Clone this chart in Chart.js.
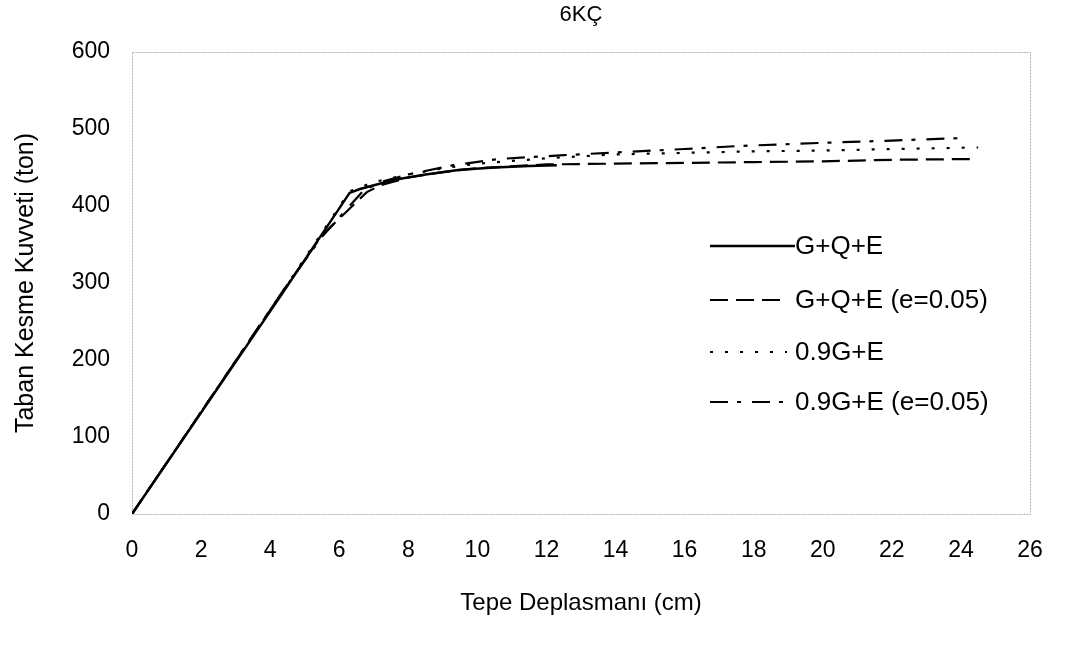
<!DOCTYPE html>
<html>
<head>
<meta charset="utf-8">
<script src="https://cdn.jsdelivr.net/npm/chart.js@4/dist/chart.umd.min.js"></script>
<style>
  html, body { margin: 0; padding: 0; background: #fff; }
  #wrap { width: 1085px; height: 646px; position: relative; }
</style>
</head>
<body>
<div id="wrap"><canvas id="chart" width="1085" height="646"></canvas></div>
<script>
// --- DATA ---
const titleText = '6KÇ';
const xTitle = 'Tepe Deplasmanı (cm)';
const yTitle = 'Taban Kesme Kuvveti (ton)';

const labels = ['G+Q+E', 'G+Q+E (e=0.05)', '0.9G+E', '0.9G+E (e=0.05)'];

const gqeX = [0, 4.3, 6.3, 6.6, 7.6, 8.5, 9.5, 10.5, 11.5, 12.3];
const gqeY = [0, 283, 417, 422, 434, 441, 447, 450, 452, 453];

const gqeEX = [0, 4.5, 5.5, 6.8, 7.2, 8, 9, 10, 12, 14, 16, 18, 20, 22, 24.3];
const gqeEY = [0, 298, 362, 418, 427, 437, 444, 449, 454, 455, 456, 457, 458, 460, 461];

const g09X = [0, 4.3, 6.3, 7, 8, 9, 10, 12, 14, 16, 18, 20, 22, 24.5];
const g09Y = [0, 285, 419, 431, 441, 449, 455, 462, 467, 469, 471, 472, 474, 476];

const g09EX = [0, 4.5, 5.5, 6.7, 7.2, 8, 9.3, 10.6, 12.5, 14.2, 16, 17.6, 20, 22, 23.9];
const g09EY = [0, 298, 360, 420, 431, 441, 453, 461, 466, 470, 474, 478, 482, 485, 488];

const xTicks = [0, 2, 4, 6, 8, 10, 12, 14, 16, 18, 20, 22, 24, 26];
const yTicks = [0, 100, 200, 300, 400, 500, 600];

const pts = (xs, ys) => xs.map((x, i) => ({ x: x, y: ys[i] }));

const FONT = 'Liberation Sans, Arial, sans-serif';

// --- PLUGINS ---
// dotted grey frame round the plot area
const framePlugin = {
    id: 'frame',
    beforeDatasetsDraw(chart) {
        const { ctx, chartArea: a } = chart;
        ctx.save();
        ctx.strokeStyle = '#b0b0b0';
        ctx.lineWidth = 1;
        ctx.setLineDash([2, 1]);
        ctx.strokeRect(a.left + 0.5, a.top + 0.5, a.right - a.left, a.bottom - a.top);
        ctx.restore();
    }
};

// legend drawn inside the plot, like the original
const legendPlugin = {
    id: 'innerLegend',
    afterDatasetsDraw(chart) {
        const { ctx } = chart;
        const x0 = 710, tx = 795;
        const ends = [795, 787, 787, 787];
        const rows = [246, 300, 352, 402];
        ctx.save();
        chart.data.datasets.forEach((ds, i) => {
            const y = rows[i];
            ctx.strokeStyle = '#000';
            ctx.lineWidth = ds.borderWidth;
            ctx.setLineDash(ds.borderDash || []);
            ctx.beginPath();
            ctx.moveTo(x0, y);
            ctx.lineTo(ends[i], y);
            ctx.stroke();
            ctx.setLineDash([]);
            ctx.fillStyle = '#000';
            ctx.font = '26px ' + FONT;
            ctx.textBaseline = 'middle';
            ctx.textAlign = 'left';
            ctx.fillText(ds.label, tx, y + 1);
        });
        ctx.restore();
    }
};

const titlePlugin = {
    id: 'topTitle',
    afterDraw(chart) {
        const { ctx, chartArea: a } = chart;
        ctx.save();
        ctx.fillStyle = '#000';
        ctx.font = '22px ' + FONT;
        ctx.textAlign = 'center';
        ctx.textBaseline = 'middle';
        ctx.fillText(titleText, (a.left + a.right) / 2, 15);
        ctx.restore();
    }
};

const ctx = document.getElementById('chart').getContext('2d');

new Chart(ctx, {
    type: 'scatter',
    data: {
        datasets: [
            { label: labels[0], data: pts(gqeX, gqeY), borderWidth: 2.5, borderDash: [] },
            { label: labels[1], data: pts(gqeEX, gqeEY), borderWidth: 2.2, borderDash: [18, 8] },
            { label: labels[2], data: pts(g09X, g09Y), borderWidth: 2.2, borderDash: [3, 12] },
            { label: labels[3], data: pts(g09EX, g09EY), borderWidth: 2.2, borderDash: [18, 9, 4, 11] }
        ].map(d => Object.assign(d, {
            showLine: true,
            borderColor: '#000',
            backgroundColor: '#000',
            pointRadius: 0,
            tension: 0,
            fill: false
        }))
    },
    options: {
        responsive: false,
        animation: false,
        layout: { padding: { top: 52, right: 55, left: 0, bottom: 0 } },
        plugins: {
            legend: { display: false },
            tooltip: { enabled: false },
            title: { display: false }
        },
        scales: {
            x: {
                type: 'linear',
                min: 0,
                max: 26,
                afterBuildTicks: (s) => { s.ticks = xTicks.map(v => ({ value: v })); },
                afterFit: (s) => { s.height = 132; },
                grid: { display: false, drawTicks: false },
                border: { display: false },
                ticks: { color: '#000', font: { family: FONT, size: 23 }, padding: 23, maxRotation: 0 },
                title: { display: true, text: xTitle, color: '#000', font: { family: FONT, size: 24 }, padding: { top: 14, bottom: 28 } }
            },
            y: {
                type: 'linear',
                min: 0,
                max: 600,
                afterBuildTicks: (s) => { s.ticks = yTicks.map(v => ({ value: v })); },
                afterFit: (s) => { s.width = 132; },
                grid: { display: false, drawTicks: false },
                border: { display: false },
                ticks: { color: '#000', font: { family: FONT, size: 23 }, padding: 22 },
                title: { display: true, text: yTitle, color: '#000', font: { family: FONT, size: 25 }, padding: { top: 11 } }
            }
        }
    },
    plugins: [framePlugin, legendPlugin, titlePlugin]
});
</script>
</body>
</html>
